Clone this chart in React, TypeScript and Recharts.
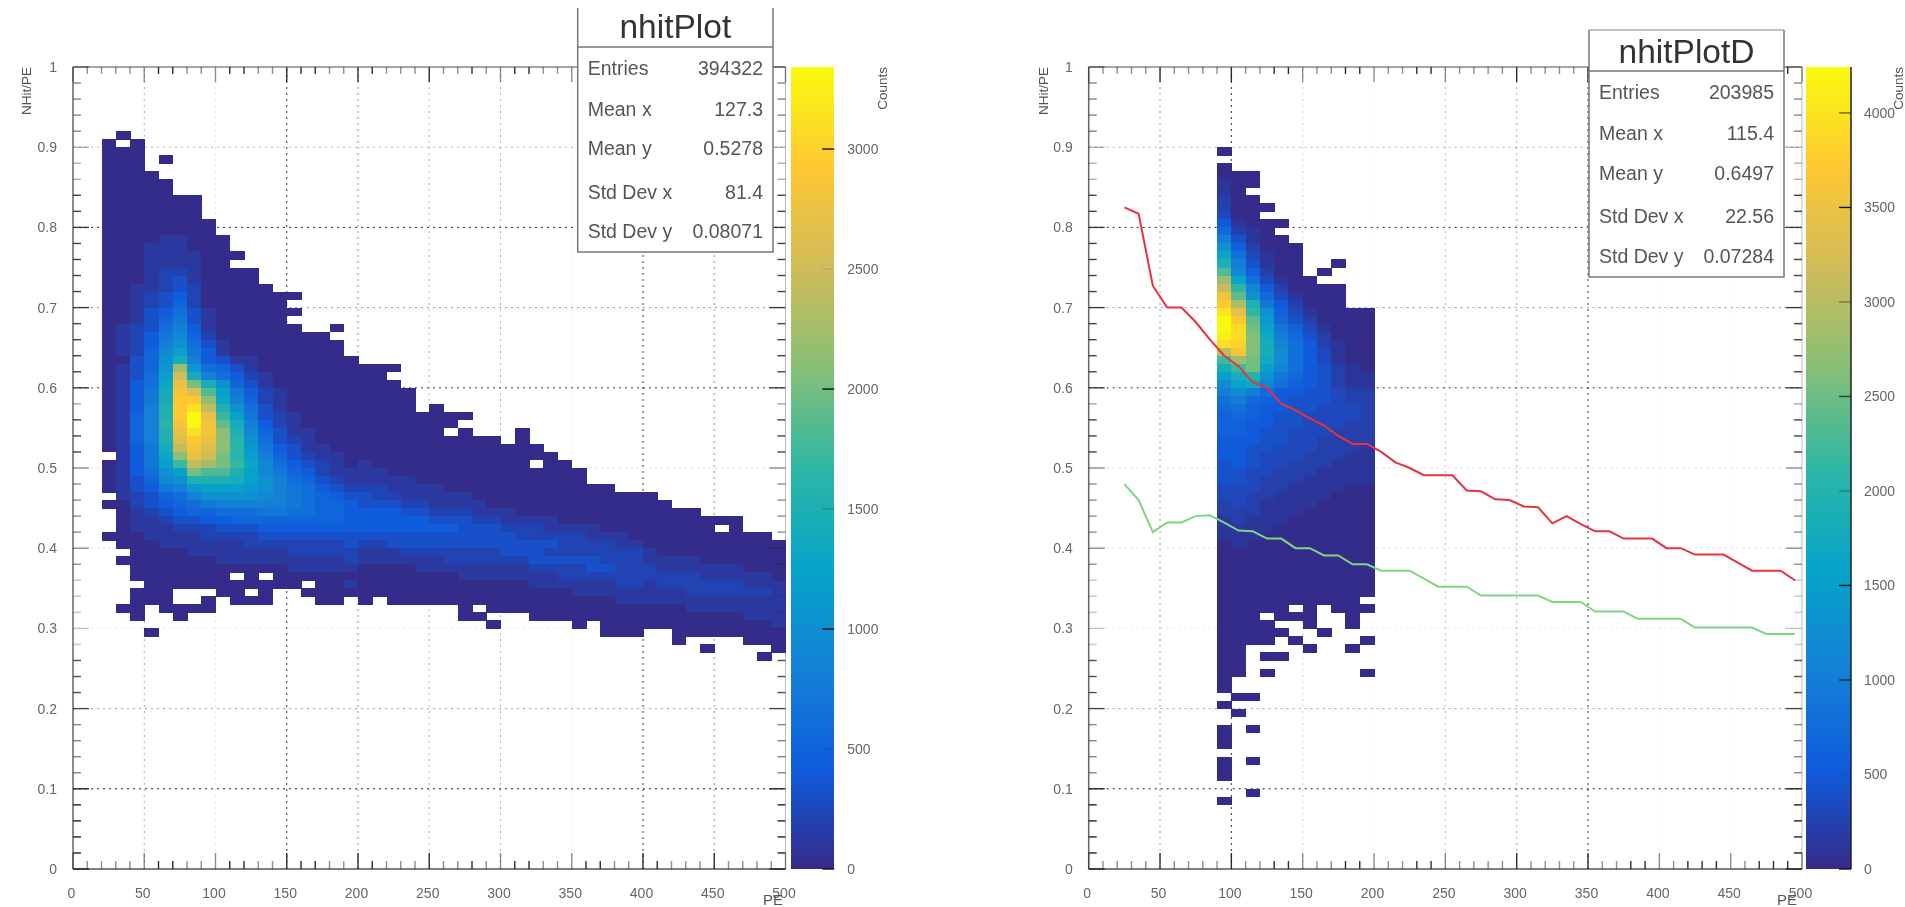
import { BarChart, Bar, ScatterChart, Scatter, XAxis, YAxis, ReferenceLine } from "recharts";

// heat map bins, one string per 0.01 of NHit/PE, top row first. Each char is one 10 PE bin:
// "." empty, otherwise hundreds of counts in base 36+ (0-9, a-z, A-G)
const nhitPlotTopBin = 91;
const nhitPlotFirstPe = 0;
const nhitPlotRows = [
  "...0......",
  "..0.0.....",
  "..000.....",
  "..000.0...",
  "..000.....",
  "..0000....",
  "..00000...",
  "..00000...",
  "..0000000.",
  "..0000000.",
  "..0000000.",
  "..00000000",
  "..00000000",
  "..00001100 0",
  "..00011100 0",
  "..00011110 00",
  "..00011110 0",
  "..00012210 000",
  "..00012310 000",
  "..00112320 0000",
  "..00123420 000000",
  "..00123520 00000",
  "..00134631 000000",
  "..00135731 00000",
  "..01236841 000000..0",
  "..01247952 00000000",
  "..01248a63 100000000",
  "..01259c74 100000000",
  "..0035ae84 3110000000",
  "..0135bmb6 5310000000 000",
  "..0136cpe8 6421000000 00",
  "..0146drke a531000000 000",
  "..0147esqi c742100000 0000",
  "..0147ettl d852100000 0000",
  "..0148ftvo fa63100000 0000.0",
  "..0158ftxr hc73210000 00000000",
  "..0158gsxs je84210000 0000000",
  "..0158frvs lf95311000 000000.0.. .0",
  "..0158fqtr lga6321000 0000000000 .0",
  "..0147eosq lgb7431100 0000000000 000",
  "...147dlrp kgc8532110 0000000000 0000",
  "..0147chom khd9643210 1000000000 00.00",
  "..0146acki ifc9754211 1100000000 000000",
  "..01359aff feca865321 1111000000 000000",
  "..013478bc ccba876432 2211110000 00000000",
  "...123568a aaa9876543 3221111100 0000000000 0",
  "..00234567 8888876554 3332211110 0000000000 00",
  "...0123455 6667766554 4443322211 1000000000 0000",
  "...0112334 4555555554 4444433322 1111000000 0000000",
  "...0111222 3334444444 4444444333 2221111000 00000.0",
  "..00011112 2223333333 3333333333 3222221110 000000000",
  "...0001111 1122222223 2233333333 3333222211 0000000000",
  "....000011 1111122222 1112222222 3332222222 1000000000",
  "...0000000 1111111112 1111112222 2233333222 1111000000",
  "....000000 0000011111 0000111111 1122223322 2111111000",
  "....000000 0.0.000000 0000000111 1111222222 2222111110",
  ".....00000 000000.001 0000000000 0011111122 1222222111",
  "....000... 00.0..0000 0000000000 0000011111 1112222221",
  "....000..0 .000...00. 0.00000000 0000000011 1111111111",
  "...00.0000 .......... .......0.0 0000000000 0001111111",
  "....0..0.. .......... .......00. ..00000000 0000000111",
  ".......... .......... .........0 .....0.000 0000000001",
  ".....0.... .......... .......... .......000 ..00000000",
  ".......... .......... .......... .......... ..0....000",
  ".......... .......... .......... .......... ....0....0",
  ".......... .......... .......... .......... ........0.",
];

const nhitPlotDTopBin = 89;
const nhitPlotDFirstPe = 90;
const nhitPlotDRows = [
  "0..........",
  "...........",
  "0..........",
  "000........",
  "100........",
  "10.........",
  "200........",
  "2000.......",
  "300........",
  "51000......",
  "7210.......",
  "a4100......",
  "d62000.....",
  "g83100.....",
  "ja4100..0..",
  "nb6200.0...",
  "sg83100....",
  "vlb520000..",
  "zod731000..",
  "Btj952000..",
  "Eyld6310000",
  "GBoe7420000",
  "GDpg9631000",
  "FDqha742000",
  "DCqib852100",
  "uAqic853100",
  "msphc853100",
  "impfb854210",
  "fikd9754211",
  "cghb8654211",
  "aca75544322",
  "8a765444322",
  "78655443332",
  "67654433332",
  "66554433322",
  "66544333222",
  "55544332222",
  "55443332221",
  "55433322211",
  "45433222111",
  "44332221111",
  "44322211111",
  "33322111100",
  "33221111000",
  "23211110000",
  "22211100000",
  "12111000000",
  "11110000000",
  "11100000000",
  "01000000000",
  "00000000000",
  "00000000000",
  "00000000000",
  "00000000000",
  "00000000000",
  "00000000000",
  "0000000000.",
  "00000.0.000",
  "000.000..0.",
  "0000..0..0.",
  "00000..0...",
  "0000.0....0",
  "00....0..0.",
  "00.00......",
  "00.........",
  "00.0......0",
  "0..........",
  "0..........",
  ".00........",
  "0..........",
  ".0.........",
  "...........",
  "0.0........",
  "0..........",
  "0..........",
  "...........",
  "0.0........",
  "0..........",
  "0..........",
  "...........",
  "..0........",
  "0..........",
];

// overlaid curves on nhitPlotD
const curvePe = [
  25, 35, 45, 55, 65, 75, 85, 95, 105, 115, 125, 135, 145, 155, 165, 175, 185, 195, 205, 215, 225, 235, 245, 255,
  265, 275, 285, 295, 305, 315, 325, 335, 345, 355, 365, 375, 385, 395, 405, 415, 425, 435, 445, 455, 465, 475, 485, 495,
];
const redCurve = [
  0.825, 0.817, 0.727, 0.7, 0.7, 0.682, 0.66, 0.64, 0.627, 0.607, 0.6, 0.58, 0.572, 0.562, 0.553, 0.54, 0.53, 0.53, 0.52, 0.507, 0.5, 0.491, 0.491, 0.491,
  0.472, 0.471, 0.461, 0.46, 0.452, 0.451, 0.431, 0.44, 0.43, 0.421, 0.421, 0.412, 0.412, 0.412, 0.4, 0.4, 0.392, 0.392, 0.392, 0.382, 0.372, 0.372, 0.372, 0.36,
];
const greenCurve = [
  0.48, 0.46, 0.42, 0.432, 0.432, 0.44, 0.441, 0.432, 0.422, 0.421, 0.412, 0.412, 0.4, 0.4, 0.391, 0.391, 0.38, 0.38, 0.372, 0.372, 0.372, 0.362, 0.352, 0.352,
  0.352, 0.341, 0.341, 0.341, 0.341, 0.341, 0.333, 0.333, 0.333, 0.321, 0.321, 0.321, 0.312, 0.312, 0.312, 0.312, 0.301, 0.301, 0.301, 0.301, 0.301, 0.293, 0.293, 0.293,
];

const xTicks = [
  0, 10, 20, 30, 40, 50, 60, 70, 80, 90, 100, 110, 120, 130, 140, 150, 160, 170, 180, 190, 200, 210, 220, 230, 240, 250,
  260, 270, 280, 290, 300, 310, 320, 330, 340, 350, 360, 370, 380, 390, 400, 410, 420, 430, 440, 450, 460, 470, 480, 490, 500,
];
const yTicks = [
  0, 0.02, 0.04, 0.06, 0.08, 0.1, 0.12, 0.14, 0.16, 0.18, 0.2, 0.22, 0.24, 0.26, 0.28, 0.3, 0.32, 0.34, 0.36, 0.38, 0.4, 0.42, 0.44, 0.46, 0.48, 0.5,
  0.52, 0.54, 0.56, 0.58, 0.6, 0.62, 0.64, 0.66, 0.68, 0.7, 0.72, 0.74, 0.76, 0.78, 0.8, 0.82, 0.84, 0.86, 0.88, 0.9, 0.92, 0.94, 0.96, 0.98, 1,
];
const leftCountTicks = [0, 500, 1000, 1500, 2000, 2500, 3000];
const rightCountTicks = [0, 500, 1000, 1500, 2000, 2500, 3000, 3500, 4000];

const leftStats = [
  ["Entries", "394322"],
  ["Mean x", "127.3"],
  ["Mean y", "0.5278"],
  ["Std Dev x", "81.4"],
  ["Std Dev y", "0.08071"],
];
const rightStats = [
  ["Entries", "203985"],
  ["Mean x", "115.4"],
  ["Mean y", "0.6497"],
  ["Std Dev x", "22.56"],
  ["Std Dev y", "0.07284"],
];

// page geometry
const plotTop = 67;
const plotBottom = 869;
const plotH = plotBottom - plotTop;
const chartH = 907;
const chartW = 820;

// ROOT's kBird palette
const bird = [
  [0x35, 0x2a, 0x87],
  [0x0f, 0x5c, 0xdd],
  [0x14, 0x81, 0xd6],
  [0x06, 0xa4, 0xca],
  [0x2e, 0xb7, 0xa4],
  [0x87, 0xbf, 0x77],
  [0xd1, 0xbb, 0x59],
  [0xfe, 0xc8, 0x32],
  [0xf9, 0xfb, 0x0e],
];

const birdColor = (f: number) => {
  const t = Math.min(Math.max(f, 0), 1) * (bird.length - 1);
  const i = Math.min(Math.floor(t), bird.length - 2);
  const c = bird[i].map((v, k) => Math.round(v + (bird[i + 1][k] - v) * (t - i)));
  return `rgb(${c[0]},${c[1]},${c[2]})`;
};

const LEVELS = "0123456789abcdefghijklmnopqrstuvwxyzABCDEFG";

const decodeCells = (rows: string[], topBin: number, firstPe: number) => {
  const cells: { pe: number; ratio: number; counts: number }[] = [];
  rows.forEach((row, r) => {
    row
      .replace(/ /g, "")
      .split("")
      .forEach((ch, c) => {
        if (ch === ".") return;
        cells.push({
          pe: firstPe + c * 10 + 5,
          ratio: (topBin - r + 0.5) / 100,
          counts: LEVELS.indexOf(ch) * 100 + 20,
        });
      });
  });
  return cells;
};

// how dark each y tick came out in the scan, by band
const yTickBands = [
  [0, 0.1, 1],
  [0.12, 0.18, 0.55],
  [0.2, 0.26, 0.8],
  [0.28, 0.36, 0.25],
  [0.38, 0.5, 0.5],
  [0.52, 0.56, 0.85],
  [0.58, 0.58, 0.4],
  [0.6, 0.84, 0.85],
  [0.86, 0.9, 0.35],
  [0.92, 1, 0.55],
];
const yTickTone = (v: number) => {
  const b = yTickBands.find((band) => v >= band[0] - 0.001 && v <= band[1] + 0.001);
  return b ? b[2] : 0.5;
};

const yGridTone: Record<string, number> = { "0.1": 0.95, "0.2": 0.4, "0.3": 0.1, "0.4": 0.15, "0.5": 0.15, "0.6": 0.8, "0.7": 0.45, "0.8": 0.85, "0.9": 0.3 };

interface HeatPlotProps {
  left: number;
  plotLeft: number;
  plotRight: number;
  rows: string[];
  topBin: number;
  firstPe: number;
  zMax: number;
  xGridTone: Record<number, number>;
  darkXTicks: number[];
  showCurves?: boolean;
}

const HeatPlot = ({ left, plotLeft, plotRight, rows, topBin, firstPe, zMax, xGridTone, darkXTicks, showCurves }: HeatPlotProps) => {
  const plotW = plotRight - plotLeft;
  const localLeft = plotLeft - left;
  const binW = plotW / 50;
  const binH = plotH / 100;
  const cells = decodeCells(rows, topBin, firstPe);

  const renderCell = ({ cx, cy, payload }: any) => (
    <rect
      x={cx - binW / 2}
      y={cy - binH / 2}
      width={binW + 0.5}
      height={binH + 0.5}
      fill={birdColor(payload.counts / zMax)}
      shapeRendering="crispEdges"
    />
  );

  const renderXTick = ({ x, payload }: any) => {
    const v = payload.value;
    const major = v % 50 === 0;
    const len = major ? 16 : 8;
    const o = darkXTicks.includes(v) ? 0.95 : 0.5;
    return (
      <g>
        <line x1={x} x2={x} y1={plotBottom} y2={plotBottom - len} stroke="#222" strokeWidth={1.4} strokeOpacity={o} />
        <line x1={x} x2={x} y1={plotTop} y2={plotTop + len - 1} stroke="#222" strokeWidth={1.4} strokeOpacity={o} />
        {major && (
          <text x={x - 1.5} y={898} textAnchor="middle" fontSize={14} fill="#666">
            {v}
          </text>
        )}
      </g>
    );
  };

  const renderYTick = ({ y, payload }: any) => {
    const v = payload.value;
    const major = Math.round(v * 100) % 10 === 0;
    const len = major ? 16 : 8;
    const o = yTickTone(v);
    return (
      <g>
        <line x1={localLeft} x2={localLeft + len} y1={y} y2={y} stroke="#222" strokeWidth={1.4} strokeOpacity={o} />
        <line x1={localLeft + plotW} x2={localLeft + plotW - len} y1={y} y2={y} stroke="#222" strokeWidth={1.4} strokeOpacity={o} />
        {major && (
          <text x={localLeft - 16} y={y + 5} textAnchor="end" fontSize={14} fill="#666">
            {v}
          </text>
        )}
      </g>
    );
  };

  return (
    <div style={{ position: "absolute", left, top: 0 }}>
      <ScatterChart
        width={chartW}
        height={chartH}
        margin={{ top: plotTop, bottom: chartH - plotBottom - 1, left: localLeft - 1, right: chartW - localLeft - plotW }}
      >
        <XAxis
          type="number"
          dataKey="pe"
          domain={[0, 500]}
          ticks={xTicks}
          interval={0}
          height={1}
          tickLine={false}
          axisLine={{ stroke: "#555", strokeWidth: 1.5 }}
          tick={renderXTick}
        />
        <YAxis
          type="number"
          dataKey="ratio"
          domain={[0, 1]}
          ticks={yTicks}
          interval={0}
          width={1}
          tickLine={false}
          axisLine={{ stroke: "#666", strokeWidth: 1.5 }}
          tick={renderYTick}
        />
        <Scatter data={cells} shape={renderCell} isAnimationActive={false} />
        {Object.keys(xGridTone).map((k) => (
          <ReferenceLine key={`gx-${k}`} x={Number(k)} stroke="#111" strokeOpacity={xGridTone[Number(k)]} strokeDasharray="2 4" />
        ))}
        {Object.keys(yGridTone).map((k) => (
          <ReferenceLine key={`gy-${k}`} y={Number(k)} stroke="#111" strokeOpacity={yGridTone[k]} strokeDasharray="2 4" />
        ))}
        <ReferenceLine y={1} stroke="#888" strokeWidth={1.5} />
        <ReferenceLine x={500} stroke="#bbb" />
        {showCurves && (
          <Scatter
            data={curvePe.map((pe, i) => ({ pe, ratio: redCurve[i] }))}
            line={{ stroke: "#e8323f", strokeWidth: 2 }}
            shape={() => null}
            isAnimationActive={false}
          />
        )}
        {showCurves && (
          <Scatter
            data={curvePe.map((pe, i) => ({ pe, ratio: greenCurve[i] }))}
            line={{ stroke: "#7fd67f", strokeWidth: 2 }}
            shape={() => null}
            isAnimationActive={false}
          />
        )}
      </ScatterChart>
    </div>
  );
};

interface ColorBarProps {
  id: string;
  left: number;
  barW: number;
  zMax: number;
  ticks: number[];
  tickTone: Record<number, number>;
  edge?: boolean;
}

const ColorBar = ({ id, left, barW, zMax, ticks, tickTone, edge }: ColorBarProps) => {
  const renderTick = ({ y, payload }: any) => (
    <g>
      <line x1={barW - 12} x2={barW} y1={y} y2={y} stroke="#111" strokeWidth={1.4} strokeOpacity={tickTone[payload.value]} />
      <text x={barW + 13} y={y + 5} fontSize={14} fill="#666">
        {payload.value}
      </text>
    </g>
  );
  return (
    <div style={{ position: "absolute", left, top: 0 }}>
      <BarChart
        width={barW + 70}
        height={chartH}
        data={[{ name: "counts", counts: zMax }]}
        margin={{ top: plotTop, bottom: chartH - plotBottom, left: 0, right: 69 }}
        barCategoryGap={0}
      >
        <defs>
          <linearGradient id={id} x1="0" y1="0" x2="0" y2="1">
            {bird
              .slice()
              .reverse()
              .map((c, i) => (
                <stop key={i} offset={i / (bird.length - 1)} stopColor={`rgb(${c[0]},${c[1]},${c[2]})`} />
              ))}
          </linearGradient>
        </defs>
        <XAxis dataKey="name" hide />
        <YAxis
          orientation="right"
          type="number"
          domain={[0, zMax]}
          ticks={ticks}
          interval={0}
          width={1}
          tickLine={false}
          axisLine={edge ? { stroke: "#222", strokeWidth: 1.5 } : false}
          tick={renderTick}
        />
        <Bar dataKey="counts" fill={`url(#${id})`} isAnimationActive={false} />
      </BarChart>
    </div>
  );
};

interface StatsBoxProps {
  title: string;
  stats: string[][];
  x: number;
  width: number;
  top: number;
  titleBottom: number;
  bottom: number;
  baseline: number;
  rowY: number[];
  topLine?: boolean;
}

const StatsBox = ({ title, stats, x, width, top, titleBottom, bottom, baseline, rowY, topLine }: StatsBoxProps) => (
  <g>
    <rect x={x} y={top} width={width} height={bottom - top} fill="#fff" stroke="none" />
    <path
      d={`M${x} ${top}V${bottom}H${x + width}V${top}M${x} ${titleBottom}H${x + width}`}
      fill="none"
      stroke="#777"
      strokeWidth={1.5}
    />
    {topLine && <path d={`M${x} ${top}H${x + width}`} stroke="#aaa" strokeWidth={1.5} />}
    <text x={x + width / 2} y={baseline} textAnchor="middle" fontSize={33.5} fill="#333">
      {title}
    </text>
    {stats.map((row, i) => (
      <g key={row[0]}>
        <text x={x + 10} y={rowY[i] + 6.5} fontSize={19.5} fill="#555">
          {row[0]}
        </text>
        <text x={x + width - 10} y={rowY[i] + 6.5} textAnchor="end" fontSize={19.5} fill="#555">
          {row[1]}
        </text>
      </g>
    ))}
  </g>
);

export default function App() {
  return (
    <div
      style={{
        position: "absolute",
        left: 0,
        top: 0,
        width: 1905,
        height: 907,
        overflow: "hidden",
        background: "#fff",
        fontFamily: '"Liberation Sans", Arial, sans-serif',
        filter: "blur(0.7px)",
      }}
    >
      <HeatPlot
        left={0}
        plotLeft={73}
        plotRight={785.5}
        rows={nhitPlotRows}
        topBin={nhitPlotTopBin}
        firstPe={nhitPlotFirstPe}
        zMax={3342}
        xGridTone={{ 50: 0.35, 100: 0.1, 150: 0.85, 200: 0.45, 250: 0.3, 300: 0.3, 350: 0.08, 400: 0.85, 450: 0.45 }}
        darkXTicks={[60, 70, 110, 120, 150, 160, 170, 200, 210, 250, 280, 310, 320, 360, 370, 400, 410, 450]}
      />
      <ColorBar
        id="bird-left"
        left={790.7}
        barW={43.3}
        zMax={3342}
        ticks={leftCountTicks}
        tickTone={{ 0: 1, 500: 0.15, 1000: 1, 1500: 0.2, 2000: 1, 2500: 0.1, 3000: 1 }}
      />
      <HeatPlot
        left={1000}
        plotLeft={1088.7}
        plotRight={1802}
        rows={nhitPlotDRows}
        topBin={nhitPlotDTopBin}
        firstPe={nhitPlotDFirstPe}
        zMax={4243}
        xGridTone={{ 50: 0.4, 100: 0.85, 150: 0.2, 200: 0.05, 250: 0.25, 300: 0.35, 350: 0.85, 400: 0.05, 450: 0.05 }}
        darkXTicks={[50, 100, 130, 140, 180, 190, 230, 240, 300, 350, 380, 390, 420, 430, 440, 470, 480, 490]}
        showCurves
      />
      <ColorBar
        id="bird-right"
        left={1806}
        barW={45}
        zMax={4243}
        ticks={rightCountTicks}
        tickTone={{ 0: 1, 500: 0.1, 1000: 0.7, 1500: 1, 2000: 0.3, 2500: 0.7, 3000: 0.4, 3500: 1, 4000: 0.6 }}
        edge
      />
      <svg width={1905} height={907} style={{ position: "absolute", left: 0, top: 0, pointerEvents: "none" }}>
        <text transform="translate(31,67) rotate(-90)" textAnchor="end" fontSize={13.5} fill="#555">
          NHit/PE
        </text>
        <text transform="translate(1048,67) rotate(-90)" textAnchor="end" fontSize={13.5} fill="#555">
          NHit/PE
        </text>
        <text x={783} y={905} textAnchor="end" fontSize={15} fill="#555">
          PE
        </text>
        <text x={1797} y={905} textAnchor="end" fontSize={15} fill="#555">
          PE
        </text>
        <text transform="translate(887,67) rotate(-90)" textAnchor="end" fontSize={13.5} fill="#555">
          Counts
        </text>
        <text transform="translate(1903,67) rotate(-90)" textAnchor="end" fontSize={13.5} fill="#555">
          Counts
        </text>
        <StatsBox
          title="nhitPlot"
          stats={leftStats}
          x={577.7}
          width={195.3}
          top={8}
          titleBottom={47}
          bottom={252}
          baseline={38}
          rowY={[68, 109, 148, 192, 231]}
        />
        <StatsBox
          title="nhitPlotD"
          stats={rightStats}
          x={1589}
          width={195}
          top={30}
          titleBottom={71}
          bottom={277}
          baseline={63}
          rowY={[92, 133, 173, 216, 256]}
          topLine
        />
      </svg>
    </div>
  );
}
